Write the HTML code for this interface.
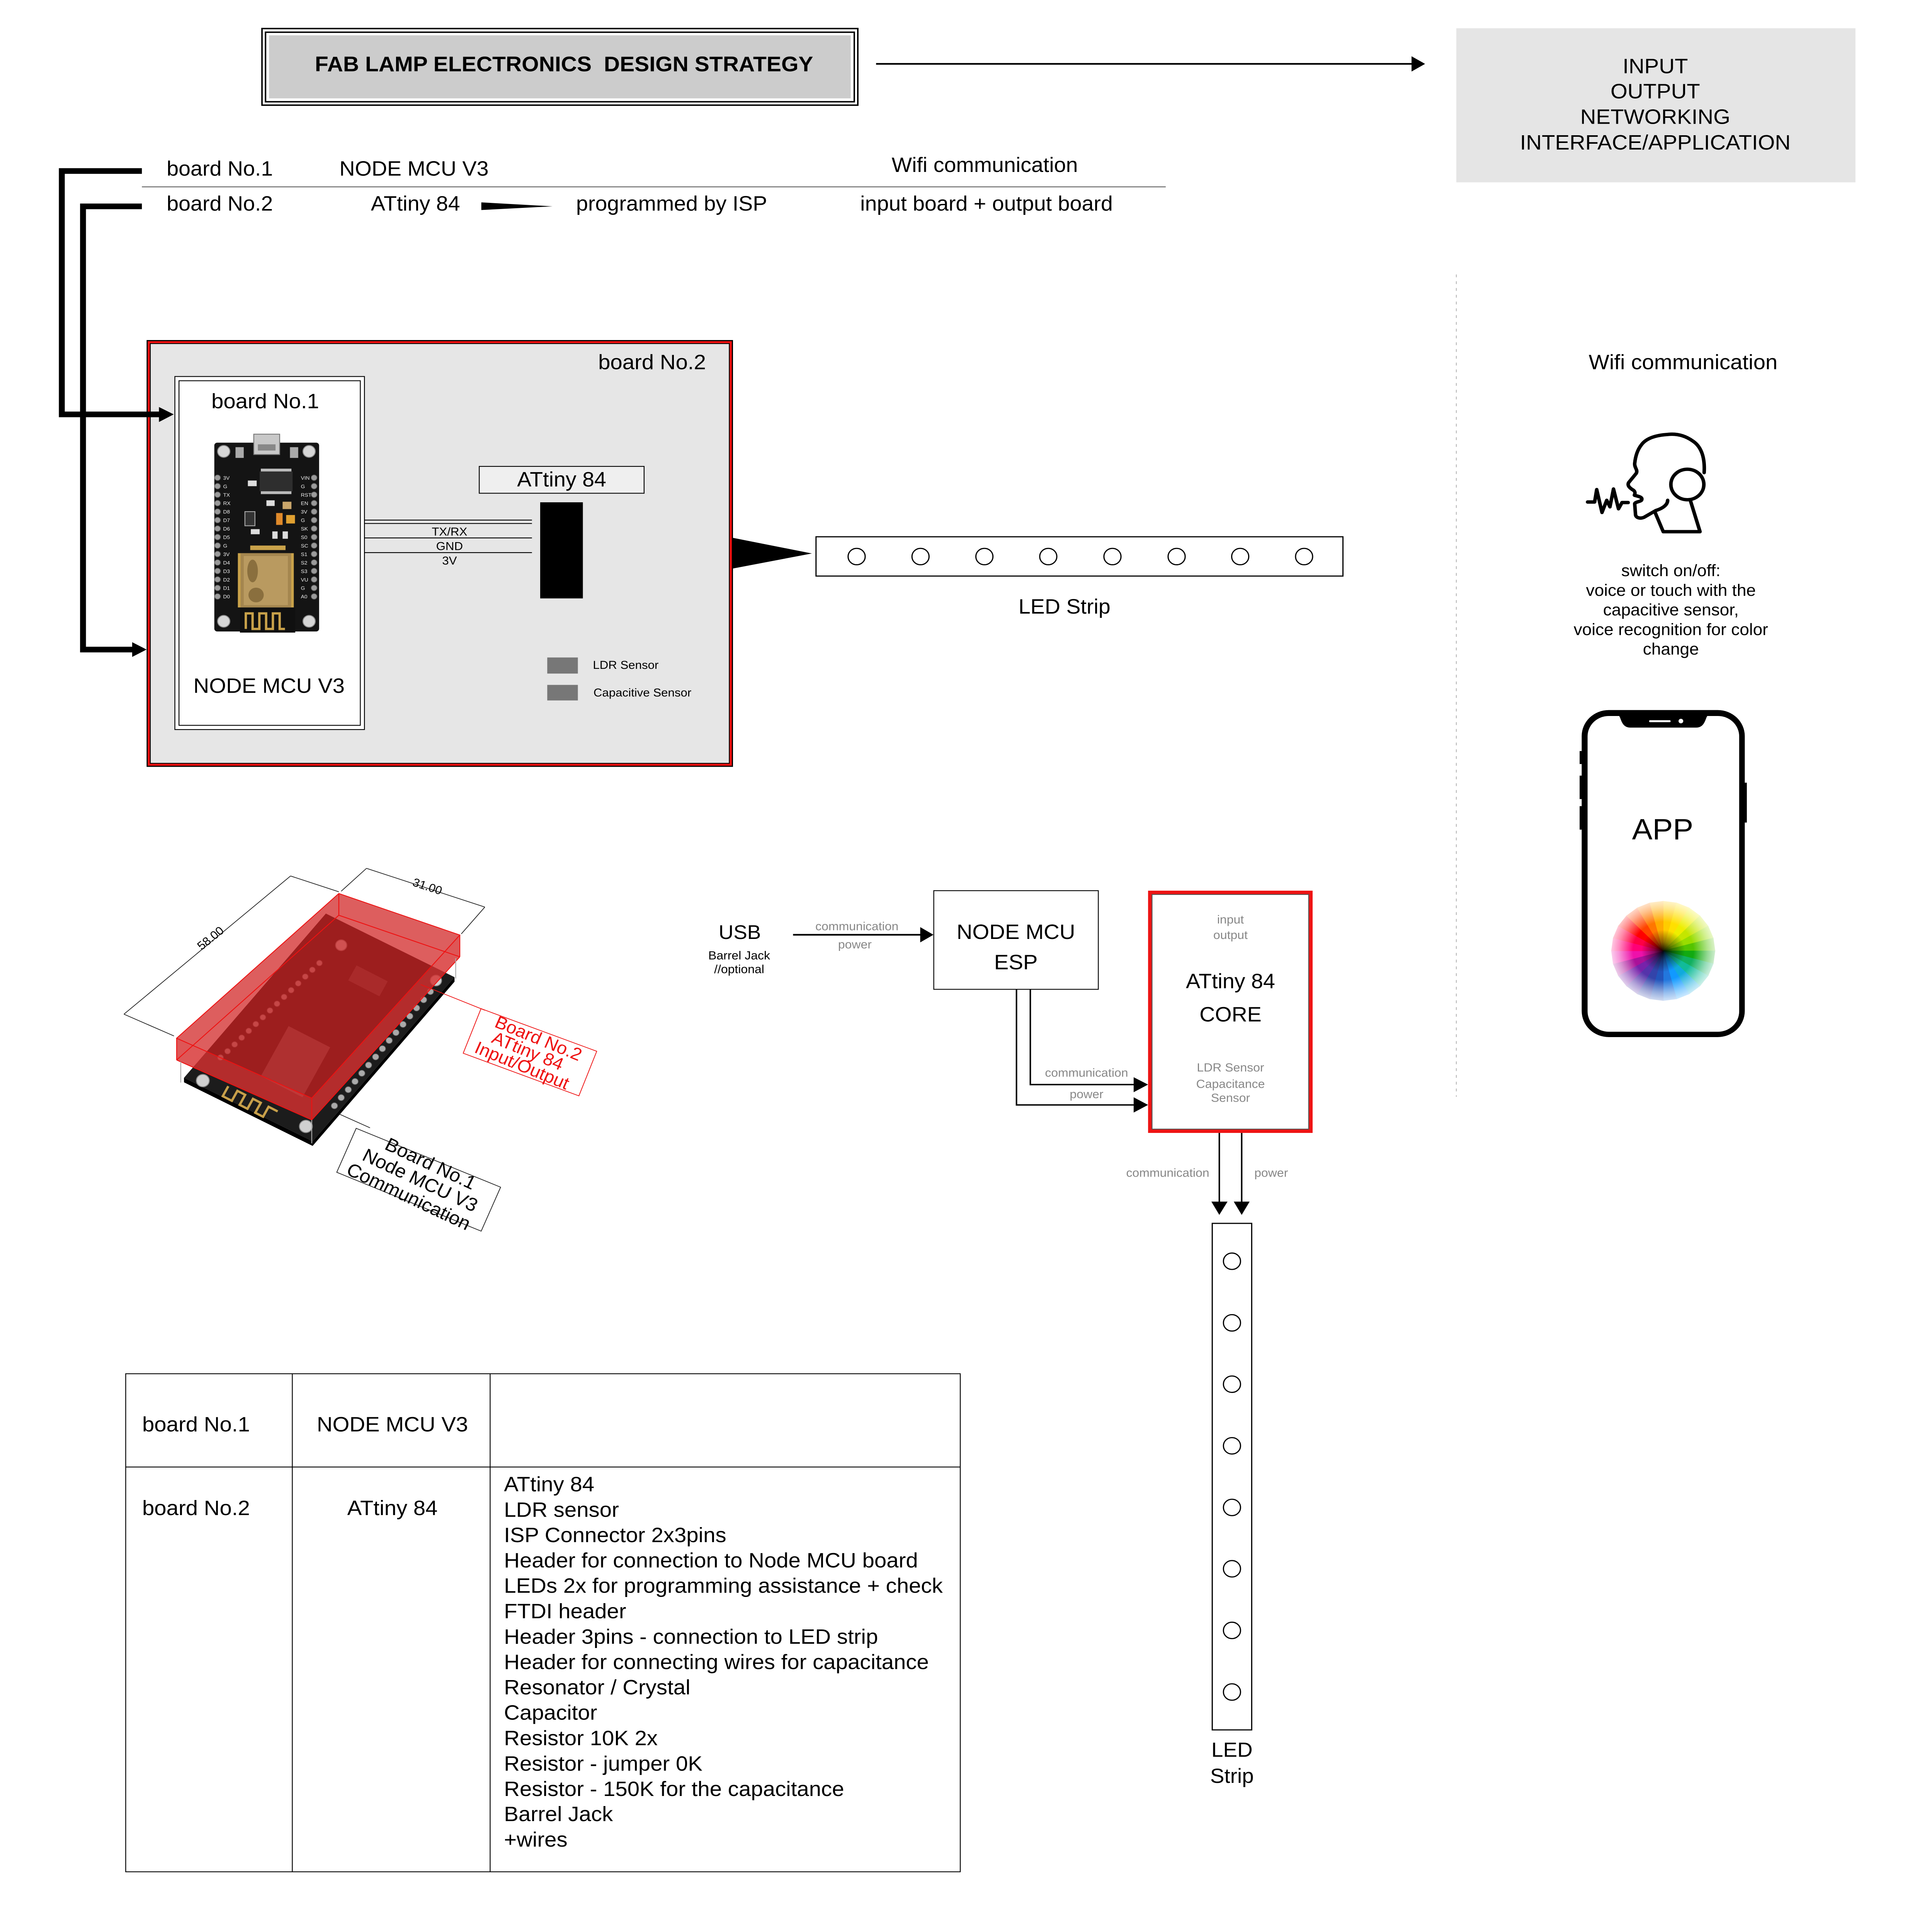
<!DOCTYPE html>
<html><head><meta charset="utf-8">
<style>
html,body{margin:0;padding:0;background:#fff;overflow:hidden;}
svg{display:block;width:100vw;height:100vh;}
text{font-family:"Liberation Sans",Arial,sans-serif;}
</style></head><body>
<svg viewBox="0 0 6563 6835" preserveAspectRatio="none" xmlns="http://www.w3.org/2000/svg">
<defs>
<radialGradient id="wg" cx="0.5" cy="0.5" r="0.5">
<stop offset="0" stop-color="#000" stop-opacity="0.92"/>
<stop offset="0.18" stop-color="#000" stop-opacity="0.45"/>
<stop offset="0.42" stop-color="#000" stop-opacity="0"/>
<stop offset="0.58" stop-color="#fff" stop-opacity="0"/>
<stop offset="0.85" stop-color="#fff" stop-opacity="0.55"/>
<stop offset="1" stop-color="#fff" stop-opacity="0.8"/>
</radialGradient>
</defs>
<rect x="0" y="0" width="6563" height="6835" fill="#fff"/>

<!-- Title -->
<rect x="890" y="101" width="2024" height="271" fill="none" stroke="#000" stroke-width="5"/>
<rect x="902" y="114" width="2000" height="246" fill="none" stroke="#000" stroke-width="5"/>
<rect x="914" y="125" width="1976" height="223" fill="#cccccc"/>
<text x="1916" y="252" font-size="75" font-weight="bold" text-anchor="middle" xml:space="preserve">FAB LAMP ELECTRONICS  DESIGN STRATEGY</text>

<line x1="2976" y1="226" x2="4800" y2="226" stroke="#000" stroke-width="6"/>
<polygon points="4795,199 4841,226 4795,253" fill="#000"/>

<!-- right gray box -->
<rect x="4947" y="100" width="1356" height="545" fill="#e5e5e5"/>
<g font-size="74" text-anchor="middle">
<text x="5623" y="259">INPUT</text>
<text x="5623" y="348">OUTPUT</text>
<text x="5623" y="438">NETWORKING</text>
<text x="5623" y="529">INTERFACE/APPLICATION</text>
</g>

<!-- header rows -->
<g font-size="73">
<text x="566" y="621">board No.1</text>
<text x="1153" y="621">NODE MCU V3</text>
<text x="3029" y="608">Wifi communication</text>
<text x="566" y="745">board No.2</text>
<text x="1260" y="745">ATtiny 84</text>
<text x="1957" y="745">programmed by ISP</text>
<text x="2922" y="745">input board + output board</text>
</g>
<line x1="482" y1="661" x2="3960" y2="661" stroke="#555" stroke-width="3"/>
<polygon points="1635,716 1877,730 1635,743" fill="#000"/>

<!-- Board No.2 -->
<rect x="498" y="1203" width="1992" height="1510" fill="#000"/>
<rect x="502" y="1207" width="1984" height="1502" fill="#f01010"/>
<rect x="509" y="1214" width="1970" height="1488" fill="#000"/>
<rect x="512" y="1217" width="1964" height="1482" fill="#e6e6e6"/>
<text x="2032" y="1306" font-size="74">board No.2</text>

<!-- left connectors -->
<polyline points="482,605 210,605 210,1466 545,1466" fill="none" stroke="#000" stroke-width="20"/>
<polygon points="540,1440 590,1466 540,1493" fill="#000"/>
<polyline points="482,730 282,730 282,2298 455,2298" fill="none" stroke="#000" stroke-width="20"/>
<polygon points="449,2272 498,2298 449,2324" fill="#000"/>

<!-- Board No.1 -->
<rect x="594" y="1332" width="644" height="1249" fill="#fff" stroke="#000" stroke-width="3"/>
<rect x="608" y="1347" width="616" height="1219" fill="none" stroke="#000" stroke-width="3"/>
<text x="718" y="1444" font-size="74">board No.1</text>
<text x="657" y="2451" font-size="74">NODE MCU V3</text>

<!-- NodeMCU picture -->
<g>
<rect x="728" y="1566" width="356" height="668" rx="10" fill="#141414"/>
<rect x="862" y="1536" width="88" height="72" fill="#c8c8c8" stroke="#777" stroke-width="3"/>
<rect x="876" y="1572" width="60" height="22" fill="#888"/>
<rect x="800" y="1582" width="28" height="38" fill="#aaa"/>
<rect x="985" y="1582" width="28" height="38" fill="#aaa"/>
<circle cx="760" cy="1597" r="21" fill="#d6d6d6" stroke="#888" stroke-width="3"/>
<circle cx="1050" cy="1597" r="21" fill="#d6d6d6" stroke="#888" stroke-width="3"/>
<circle cx="760" cy="2198" r="21" fill="#d6d6d6" stroke="#888" stroke-width="3"/>
<circle cx="1050" cy="2198" r="21" fill="#d6d6d6" stroke="#888" stroke-width="3"/>
<g fill="#9a9a9a" stroke="#555" stroke-width="2">
<circle cx="739" cy="1690" r="10"/><circle cx="739" cy="1720" r="10"/><circle cx="739" cy="1750" r="10"/><circle cx="739" cy="1780" r="10"/><circle cx="739" cy="1810" r="10"/><circle cx="739" cy="1840" r="10"/><circle cx="739" cy="1870" r="10"/><circle cx="739" cy="1900" r="10"/><circle cx="739" cy="1930" r="10"/><circle cx="739" cy="1960" r="10"/><circle cx="739" cy="1990" r="10"/><circle cx="739" cy="2020" r="10"/><circle cx="739" cy="2050" r="10"/><circle cx="739" cy="2080" r="10"/><circle cx="739" cy="2110" r="10"/>
<circle cx="1067" cy="1690" r="10"/><circle cx="1067" cy="1720" r="10"/><circle cx="1067" cy="1750" r="10"/><circle cx="1067" cy="1780" r="10"/><circle cx="1067" cy="1810" r="10"/><circle cx="1067" cy="1840" r="10"/><circle cx="1067" cy="1870" r="10"/><circle cx="1067" cy="1900" r="10"/><circle cx="1067" cy="1930" r="10"/><circle cx="1067" cy="1960" r="10"/><circle cx="1067" cy="1990" r="10"/><circle cx="1067" cy="2020" r="10"/><circle cx="1067" cy="2050" r="10"/><circle cx="1067" cy="2080" r="10"/><circle cx="1067" cy="2110" r="10"/>
</g>
<g fill="#eee" font-size="18">
<text x="758" y="1697">3V</text><text x="758" y="1727">G</text><text x="758" y="1757">TX</text><text x="758" y="1787">RX</text><text x="758" y="1817">D8</text><text x="758" y="1847">D7</text><text x="758" y="1877">D6</text><text x="758" y="1907">D5</text><text x="758" y="1937">G</text><text x="758" y="1967">3V</text><text x="758" y="1997">D4</text><text x="758" y="2027">D3</text><text x="758" y="2057">D2</text><text x="758" y="2087">D1</text><text x="758" y="2117">D0</text>
<text x="1022" y="1697">VIN</text><text x="1022" y="1727">G</text><text x="1022" y="1757">RST</text><text x="1022" y="1787">EN</text><text x="1022" y="1817">3V</text><text x="1022" y="1847">G</text><text x="1022" y="1877">SK</text><text x="1022" y="1907">S0</text><text x="1022" y="1937">SC</text><text x="1022" y="1967">S1</text><text x="1022" y="1997">S2</text><text x="1022" y="2027">S3</text><text x="1022" y="2057">VU</text><text x="1022" y="2087">G</text><text x="1022" y="2117">A0</text>
</g>
<rect x="882" y="1668" width="112" height="70" fill="#2e2e2e"/>
<rect x="886" y="1658" width="104" height="10" fill="#bbb"/>
<rect x="886" y="1738" width="104" height="10" fill="#bbb"/>
<rect x="842" y="1700" width="30" height="20" fill="#ddd"/>
<rect x="905" y="1770" width="28" height="20" fill="#ddd"/>
<rect x="960" y="1775" width="30" height="26" fill="#c9a66b"/>
<rect x="832" y="1810" width="34" height="50" fill="#333" stroke="#aaa" stroke-width="3"/>
<rect x="938" y="1815" width="22" height="42" fill="#e08a2a"/>
<rect x="972" y="1822" width="30" height="30" fill="#e0a030"/>
<rect x="852" y="1872" width="30" height="18" fill="#ddd"/>
<rect x="925" y="1880" width="18" height="26" fill="#ddd"/>
<rect x="960" y="1880" width="18" height="26" fill="#ddd"/>
<rect x="850" y="1930" width="120" height="16" fill="#c9a24a"/>
<rect x="808" y="1957" width="190" height="192" fill="#c9a24a"/>
<rect x="817" y="1957" width="172" height="192" fill="#a4864f"/>
<rect x="828" y="1967" width="150" height="174" fill="#b99a60"/>
<ellipse cx="858" cy="2020" rx="18" ry="40" fill="#8a6f3e"/>
<ellipse cx="870" cy="2105" rx="26" ry="26" fill="#8a6f3e"/>
<rect x="815" y="2150" width="188" height="88" fill="#101010"/>
<path d="M835,2225 L835,2170 L858,2170 L858,2225 L881,2225 L881,2170 L904,2170 L904,2225 L927,2225 L927,2170 L950,2170 L950,2225 L968,2225" fill="none" stroke="#c9a24a" stroke-width="8"/>
</g>

<!-- ATtiny -->
<rect x="1628" y="1650" width="560" height="95" fill="#efefef" stroke="#000" stroke-width="3"/>
<text x="1908" y="1721" font-size="73" text-anchor="middle">ATtiny 84</text>
<rect x="1835" y="1777" width="145" height="340" fill="#000"/>
<g stroke="#000" stroke-width="3">
<line x1="1238" y1="1840" x2="1807" y2="1840"/>
<line x1="1238" y1="1852" x2="1807" y2="1852"/>
<line x1="1238" y1="1903" x2="1807" y2="1903"/>
<line x1="1238" y1="1955" x2="1807" y2="1955"/>
</g>
<g font-size="41" text-anchor="middle">
<text x="1527" y="1895">TX/RX</text>
<text x="1527" y="1946">GND</text>
<text x="1527" y="1997">3V</text>
</g>
<rect x="1859" y="2326" width="104" height="57" fill="#777"/>
<rect x="1859" y="2423" width="104" height="55" fill="#777"/>
<text x="2014" y="2366" font-size="41">LDR Sensor</text>
<text x="2016" y="2464" font-size="41">Capacitive Sensor</text>

<polygon points="2486,1902 2758,1958 2486,2012" fill="#000"/>

<!-- LED strip horizontal -->
<rect x="2772" y="1899" width="1790" height="139" fill="#fff" stroke="#000" stroke-width="4"/>
<g fill="none" stroke="#000" stroke-width="4">
<circle cx="2910" cy="1969" r="29"/><circle cx="3127" cy="1969" r="29"/><circle cx="3344" cy="1969" r="29"/><circle cx="3561" cy="1969" r="29"/><circle cx="3779" cy="1969" r="29"/><circle cx="3997" cy="1969" r="29"/><circle cx="4213" cy="1969" r="29"/><circle cx="4430" cy="1969" r="29"/>
</g>
<text x="3616" y="2171" font-size="73" text-anchor="middle">LED Strip</text>

<!-- dashed divider -->
<line x1="4947" y1="971" x2="4947" y2="3880" stroke="#999" stroke-width="2" stroke-dasharray="10 14"/>

<!-- right column -->
<text x="5397" y="1306" font-size="74">Wifi communication</text>
<g fill="none" stroke="#000" stroke-width="12" stroke-linecap="round" stroke-linejoin="round">
<path d="M5789,1672 C5792,1620 5780,1580 5750,1560 C5720,1538 5690,1534 5665,1537 C5620,1540 5590,1552 5575,1575 C5560,1595 5555,1620 5553,1640 C5552,1655 5565,1663 5558,1675 L5532,1708 C5528,1718 5535,1725 5545,1732 C5556,1738 5555,1745 5552,1752 C5565,1756 5580,1758 5577,1768 C5575,1775 5555,1775 5553,1782 L5556,1822 C5558,1832 5572,1836 5585,1830 L5625,1806 C5650,1798 5665,1785 5665,1770"/>
<path d="M5622,1812 L5650,1881 L5775,1881 L5742,1770"/>
<ellipse cx="5732" cy="1714" rx="56" ry="54"/>
<polyline points="5393,1776 5417,1776 5424,1732 5442,1813 5458,1770 5469,1793 5481,1730 5498,1800 5510,1778 5531,1778"/>
</g>
<g font-size="58" text-anchor="middle">
<text x="5676" y="2038">switch on/off:</text>
<text x="5676" y="2108">voice or touch with the</text>
<text x="5676" y="2177">capacitive sensor,</text>
<text x="5676" y="2247">voice recognition for color</text>
<text x="5676" y="2316">change</text>
</g>

<!-- phone -->
<rect x="5366" y="2657" width="10" height="46" fill="#000"/>
<rect x="5366" y="2744" width="10" height="83" fill="#000"/>
<rect x="5366" y="2852" width="10" height="83" fill="#000"/>
<rect x="5924" y="2769" width="10" height="141" fill="#000"/>
<rect x="5373" y="2512" width="554" height="1157" rx="92" fill="#000"/>
<rect x="5393" y="2533" width="515" height="1117" rx="72" fill="#fff"/>
<path d="M5500,2533 L5800,2533 C5793,2540 5792,2574 5762,2574 L5538,2574 C5508,2574 5507,2540 5500,2533 Z" fill="#000"/>
<rect x="5602" y="2548" width="73" height="7" rx="3" fill="#fff"/>
<circle cx="5710" cy="2551" r="8" fill="#fff"/>
<text x="5648" y="2970" font-size="104" text-anchor="middle">APP</text>

<!-- color wheel -->
<g stroke-width="1.5" stroke-linejoin="round">
<path d="M5650,3364 L5650,3188 L5695.5,3194 Z" fill="#ffcc00" stroke="#ffcc00"/>
<path d="M5650,3364 L5695.5,3194 L5738,3211.6 Z" fill="#ffe000" stroke="#ffe000"/>
<path d="M5650,3364 L5738,3211.6 L5774.4,3239.6 Z" fill="#eeee00" stroke="#eeee00"/>
<path d="M5650,3364 L5774.4,3239.6 L5802.4,3276 Z" fill="#c4e600" stroke="#c4e600"/>
<path d="M5650,3364 L5802.4,3276 L5820,3318.5 Z" fill="#99dd00" stroke="#99dd00"/>
<path d="M5650,3364 L5820,3318.5 L5826,3364 Z" fill="#55c400" stroke="#55c400"/>
<path d="M5650,3364 L5826,3364 L5820,3409.5 Z" fill="#11aa11" stroke="#11aa11"/>
<path d="M5650,3364 L5820,3409.5 L5802.4,3452 Z" fill="#11b060" stroke="#11b060"/>
<path d="M5650,3364 L5802.4,3452 L5774.4,3488.4 Z" fill="#11bb99" stroke="#11bb99"/>
<path d="M5650,3364 L5774.4,3488.4 L5738,3516.4 Z" fill="#11aadd" stroke="#11aadd"/>
<path d="M5650,3364 L5738,3516.4 L5695.5,3534 Z" fill="#1199ff" stroke="#1199ff"/>
<path d="M5650,3364 L5695.5,3534 L5650,3540 Z" fill="#2277dd" stroke="#2277dd"/>
<path d="M5650,3364 L5650,3540 L5604.5,3534 Z" fill="#2255bb" stroke="#2255bb"/>
<path d="M5650,3364 L5604.5,3534 L5562,3516.4 Z" fill="#3344aa" stroke="#3344aa"/>
<path d="M5650,3364 L5562,3516.4 L5525.6,3488.4 Z" fill="#5533aa" stroke="#5533aa"/>
<path d="M5650,3364 L5525.6,3488.4 L5497.6,3452 Z" fill="#7722aa" stroke="#7722aa"/>
<path d="M5650,3364 L5497.6,3452 L5480,3409.5 Z" fill="#aa1199" stroke="#aa1199"/>
<path d="M5650,3364 L5480,3409.5 L5474,3364 Z" fill="#ee11aa" stroke="#ee11aa"/>
<path d="M5650,3364 L5474,3364 L5480,3318.5 Z" fill="#ff0077" stroke="#ff0077"/>
<path d="M5650,3364 L5480,3318.5 L5497.6,3276 Z" fill="#ff0044" stroke="#ff0044"/>
<path d="M5650,3364 L5497.6,3276 L5525.6,3239.6 Z" fill="#ff0000" stroke="#ff0000"/>
<path d="M5650,3364 L5525.6,3239.6 L5562,3211.6 Z" fill="#ff4400" stroke="#ff4400"/>
<path d="M5650,3364 L5562,3211.6 L5604.5,3194 Z" fill="#ff7700" stroke="#ff7700"/>
<path d="M5650,3364 L5604.5,3194 L5650,3188 Z" fill="#ffaa00" stroke="#ffaa00"/>
</g>
<circle cx="5650" cy="3364" r="177" fill="url(#wg)"/>

<!-- USB / middle diagram -->
<text x="2513" y="3322" font-size="70" text-anchor="middle">USB</text>
<text x="2511" y="3394" font-size="42" text-anchor="middle">Barrel Jack</text>
<text x="2511" y="3443" font-size="42" text-anchor="middle">//optional</text>
<line x1="2694" y1="3307" x2="3130" y2="3307" stroke="#000" stroke-width="6"/>
<polygon points="3126,3280 3171,3307 3126,3334" fill="#000"/>
<g font-size="42" fill="#888" text-anchor="middle">
<text x="2911" y="3291">communication</text>
<text x="2904" y="3355">power</text>
</g>

<rect x="3172" y="3151" width="559" height="349" fill="#fff" stroke="#000" stroke-width="3"/>
<text x="3451" y="3322" font-size="74" text-anchor="middle">NODE MCU</text>
<text x="3451" y="3429" font-size="74" text-anchor="middle">ESP</text>

<rect x="3900" y="3151" width="559" height="857" fill="#ee1414"/>
<rect x="3912" y="3163" width="535" height="833" fill="#555"/>
<rect x="3915" y="3166" width="529" height="827" fill="#fff"/>
<g text-anchor="middle">
<text x="4180" y="3267" font-size="42" fill="#888">input</text>
<text x="4180" y="3322" font-size="42" fill="#888">output</text>
<text x="4180" y="3496" font-size="73">ATtiny 84</text>
<text x="4180" y="3614" font-size="73">CORE</text>
<text x="4180" y="3791" font-size="42" fill="#888">LDR Sensor</text>
<text x="4180" y="3849" font-size="42" fill="#888">Capacitance</text>
<text x="4180" y="3898" font-size="42" fill="#888">Sensor</text>
</g>

<g fill="none" stroke="#000" stroke-width="5">
<polyline points="3453,3500 3453,3909 3855,3909"/>
<polyline points="3500,3500 3500,3837 3855,3837"/>
<line x1="4142" y1="4008" x2="4142" y2="4255"/>
<line x1="4218" y1="4008" x2="4218" y2="4255"/>
</g>
<polygon points="3851,3882 3900,3909 3851,3936" fill="#000"/>
<polygon points="3851,3811 3900,3837 3851,3864" fill="#000"/>
<polygon points="4115,4251 4142,4298 4170,4251" fill="#000"/>
<polygon points="4191,4251 4218,4298 4245,4251" fill="#000"/>
<g font-size="42" fill="#888">
<text x="3691" y="3809" text-anchor="middle">communication</text>
<text x="3691" y="3885" text-anchor="middle">power</text>
<text x="4108" y="4163" text-anchor="end">communication</text>
<text x="4261" y="4163">power</text>
</g>

<!-- LED strip vertical -->
<rect x="4118" y="4328" width="134" height="1792" fill="#fff" stroke="#000" stroke-width="4"/>
<g fill="none" stroke="#000" stroke-width="4">
<circle cx="4185" cy="4462" r="29"/><circle cx="4185" cy="4680" r="29"/><circle cx="4185" cy="4897" r="29"/><circle cx="4185" cy="5115" r="29"/><circle cx="4185" cy="5333" r="29"/><circle cx="4185" cy="5550" r="29"/><circle cx="4185" cy="5768" r="29"/><circle cx="4185" cy="5986" r="29"/>
</g>
<text x="4185" y="6215" font-size="72" text-anchor="middle">LED</text>
<text x="4185" y="6307" font-size="72" text-anchor="middle">Strip</text>

<!-- 3D board -->
<g>
<polygon points="625,3813 1062,4038 1062,4054 625,3829" fill="#000"/>
<polygon points="1062,4038 1544,3457 1544,3473 1062,4054" fill="#000"/>
<polygon points="1107,3232 1544,3457 1062,4038 625,3813" fill="#1c1c1c"/>
<g transform="translate(1004,3756) rotate(28)"><rect x="-80" y="-100" width="160" height="200" fill="#5a5a5a"/></g>
<g transform="translate(1250,3470) rotate(28)"><rect x="-60" y="-30" width="120" height="60" fill="#444"/></g>
<g transform="translate(850,3905) rotate(28)"><path d="M-95,-20 L-95,20 L-60,20 L-60,-20 L-30,-20 L-30,20 L0,20 L0,-20 L30,-20 L30,20 L60,20 L60,-20 L95,-20" fill="none" stroke="#c8a04a" stroke-width="8"/></g>
<g fill="#aaa" stroke="#555" stroke-width="2">
<circle cx="1462" cy="3508" r="11"/><circle cx="1439" cy="3537" r="11"/><circle cx="1415" cy="3566" r="11"/><circle cx="1392" cy="3595" r="11"/><circle cx="1369" cy="3624" r="11"/><circle cx="1345" cy="3653" r="11"/><circle cx="1322" cy="3681" r="11"/><circle cx="1299" cy="3710" r="11"/><circle cx="1276" cy="3739" r="11"/><circle cx="1252" cy="3768" r="11"/><circle cx="1229" cy="3797" r="11"/><circle cx="1206" cy="3826" r="11"/><circle cx="1183" cy="3855" r="11"/><circle cx="1159" cy="3883" r="11"/><circle cx="1136" cy="3912" r="11"/>
<circle cx="1085" cy="3407" r="10"/><circle cx="1061" cy="3431" r="10"/><circle cx="1037" cy="3455" r="10"/><circle cx="1013" cy="3479" r="10"/><circle cx="989" cy="3503" r="10"/><circle cx="965" cy="3527" r="10"/><circle cx="941" cy="3551" r="10"/><circle cx="917" cy="3575" r="10"/><circle cx="893" cy="3599" r="10"/><circle cx="869" cy="3623" r="10"/><circle cx="845" cy="3647" r="10"/><circle cx="821" cy="3671" r="10"/><circle cx="797" cy="3695" r="10"/><circle cx="773" cy="3719" r="10"/><circle cx="749" cy="3741" r="10"/>
</g>
<g fill="#d0d0d0" stroke="#888" stroke-width="3">
<circle cx="689" cy="3823" r="22"/><circle cx="1039" cy="3985" r="22"/><circle cx="1481" cy="3469" r="19"/><circle cx="1159" cy="3344" r="19"/>
</g>
<path d="M600,3673 L1151,3161 L1562,3308 L1562,3385 L1059,3962 L600,3750 Z" fill="#d02020" fill-opacity="0.72"/>
<path d="M600,3673 L1059,3885 L1562,3308 L1562,3385 L1059,3962 L600,3750 Z" fill="#e04848" fill-opacity="0.35"/>
<g fill="none" stroke="#ee1111" stroke-width="3">
<path d="M600,3673 L1151,3161 L1562,3308 L1059,3885 Z"/>
<line x1="1059" y1="3885" x2="1059" y2="3962"/>
<line x1="600" y1="3673" x2="600" y2="3750"/>
<line x1="1562" y1="3308" x2="1562" y2="3385"/>
<path d="M600,3750 L1059,3962 L1562,3385"/>
<path d="M600,3750 L1151,3238 L1562,3385"/>
<line x1="1151" y1="3161" x2="1151" y2="3238"/>
</g>
<g stroke="#aaa" stroke-width="3">
<line x1="614" y1="3756" x2="614" y2="3830"/>
<line x1="1059" y1="3962" x2="1059" y2="4045"/>
<line x1="1548" y1="3390" x2="1548" y2="3462"/>
</g>
<g stroke="#222" stroke-width="2.5">
<line x1="421" y1="3588" x2="987" y2="3099"/>
<line x1="421" y1="3588" x2="591" y2="3665"/>
<line x1="987" y1="3099" x2="1151" y2="3155"/>
<line x1="1245" y1="3072" x2="1647" y2="3209"/>
<line x1="1245" y1="3072" x2="1159" y2="3153"/>
<line x1="1647" y1="3209" x2="1567" y2="3304"/>
<line x1="1154" y1="3942" x2="1257" y2="3990"/>
</g>
<text transform="translate(715,3319) rotate(-40)" dy="14" font-size="41" text-anchor="middle">58.00</text>
<text transform="translate(1452,3136) rotate(19)" dy="14" font-size="41" text-anchor="middle">31.00</text>
<line x1="1429" y1="3483" x2="1647" y2="3574" stroke="#ee1111" stroke-width="2.5"/>
<g transform="translate(1800,3722) rotate(21)">
<rect x="-210" y="-84" width="421" height="169" fill="none" stroke="#ee1111" stroke-width="2.5"/>
</g>
<g transform="translate(1800,3722) rotate(23)" fill="#ee1111" font-size="62" text-anchor="middle">
<text x="8" y="-35">Board No.2</text>
<text x="-8" y="20">ATtiny 84</text>
<text x="-6" y="75">Input/Output</text>
</g>
<g transform="translate(1422,4173) rotate(23)">
<rect x="-266" y="-84" width="533" height="169" fill="none" stroke="#222" stroke-width="2.5"/>
</g>
<g transform="translate(1422,4173) rotate(26)" font-size="66" text-anchor="middle">
<text x="12" y="-46">Board No.1</text>
<text x="6" y="22">Node MCU V3</text>
<text x="-4" y="91">Communication</text>
</g>
</g>

<!-- table -->
<g fill="none" stroke="#000" stroke-width="3">
<rect x="427" y="4860" width="2835" height="1762"/>
<line x1="993" y1="4860" x2="993" y2="6622"/>
<line x1="1665" y1="4860" x2="1665" y2="6622"/>
<line x1="427" y1="5190" x2="3262" y2="5190"/>
</g>
<g font-size="74">
<text x="483" y="5064">board No.1</text>
<text x="1333" y="5064" text-anchor="middle">NODE MCU V3</text>
<text x="483" y="5360">board No.2</text>
<text x="1333" y="5360" text-anchor="middle">ATtiny 84</text>
<text x="1712" y="5276">ATtiny 84</text>
<text x="1712" y="5366">LDR sensor</text>
<text x="1712" y="5456">ISP Connector 2x3pins</text>
<text x="1712" y="5545">Header for connection to Node MCU board</text>
<text x="1712" y="5635">LEDs 2x for programming assistance + check</text>
<text x="1712" y="5725">FTDI header</text>
<text x="1712" y="5815">Header 3pins - connection to LED strip</text>
<text x="1712" y="5905">Header for connecting wires for capacitance</text>
<text x="1712" y="5994">Resonator / Crystal</text>
<text x="1712" y="6084">Capacitor</text>
<text x="1712" y="6174">Resistor 10K 2x</text>
<text x="1712" y="6264">Resistor - jumper 0K</text>
<text x="1712" y="6354">Resistor - 150K for the capacitance</text>
<text x="1712" y="6443">Barrel Jack</text>
<text x="1712" y="6533">+wires</text>
</g>
</svg>
</body></html>
